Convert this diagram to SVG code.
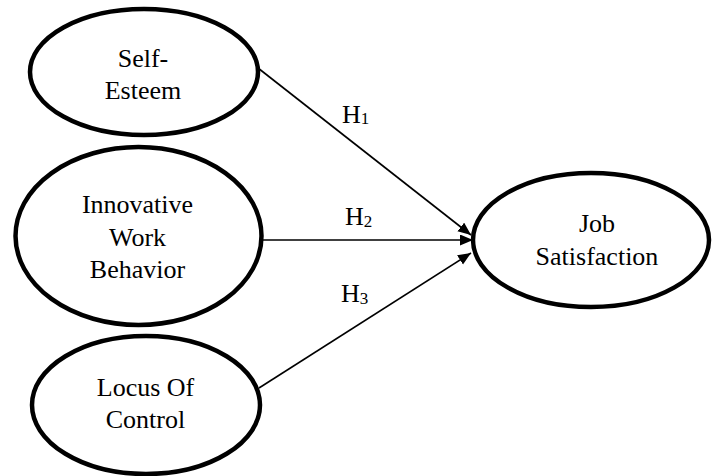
<svg xmlns="http://www.w3.org/2000/svg" width="712" height="476" viewBox="0 0 712 476">
<style>
.node ellipse{fill:#fff;stroke:#000;stroke-width:4.5}
text{font-family:"Liberation Serif",serif;font-size:26px;fill:#000;text-anchor:middle}
.lbl{text-anchor:start}
.conn line{stroke:#000;stroke-width:1.6}
</style>
<defs>
<marker id="arr" markerUnits="userSpaceOnUse" markerWidth="14" markerHeight="12" refX="13" refY="5.5" orient="auto">
<path d="M0,0 L13,5.5 L0,11 z" fill="#000"/>
</marker>
</defs>
<g id="connectors" class="conn">
<line x1="258" y1="68" x2="471" y2="235" marker-end="url(#arr)"/>
<line x1="252" y1="240" x2="473" y2="240" marker-end="url(#arr)"/>
<line x1="259" y1="388" x2="471" y2="253" marker-end="url(#arr)"/>
</g>
<g id="self-esteem" class="node">
<ellipse cx="144" cy="72" rx="114" ry="63"/>
<text x="143" y="67">Self-</text>
<text x="143" y="99">Esteem</text>
</g>
<g id="innovative-work-behavior" class="node">
<ellipse cx="138.5" cy="236" rx="123" ry="89"/>
<text x="137.5" y="213">Innovative</text>
<text x="137.5" y="246">Work</text>
<text x="137.5" y="278">Behavior</text>
</g>
<g id="locus-of-control" class="node">
<ellipse cx="146" cy="405" rx="114" ry="69"/>
<text x="145.5" y="396">Locus Of</text>
<text x="145.5" y="428">Control</text>
</g>
<g id="job-satisfaction" class="node">
<ellipse cx="591" cy="240" rx="118" ry="67"/>
<text x="597" y="232">Job</text>
<text x="597" y="265">Satisfaction</text>
</g>
<g id="labels">
<text class="lbl" x="342" y="123">H<tspan font-size="17" dy="1">1</tspan></text>
<text class="lbl" x="345" y="225">H<tspan font-size="17" dy="2">2</tspan></text>
<text class="lbl" x="341" y="302">H<tspan font-size="17" dy="2">3</tspan></text>
</g>
</svg>
